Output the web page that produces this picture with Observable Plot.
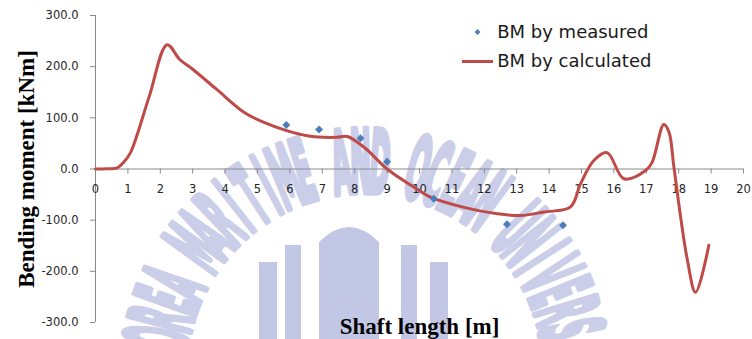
<!DOCTYPE html>
<html>
<head>
<meta charset="utf-8">
<script src="https://cdn.jsdelivr.net/npm/d3@7"></script>
<script src="https://cdn.jsdelivr.net/npm/@observablehq/plot@0.6"></script>
<style>
  html, body { margin: 0; padding: 0; background: #ffffff; }
  #chart { width: 752px; height: 339px; overflow: hidden; }
</style>
</head>
<body>
<div id="chart"></div>
<script>
// Measured bending moment along the shaft (diamonds)
const measuredX  = [5.89, 6.9, 8.18, 9.0, 10.44, 12.7, 14.43];
const measuredBM = [86, 77, 60, 14, -58, -108, -110];

// Calculated bending moment along the shaft (smoothed line)
const calcX  = [0, 0.35, 0.67, 0.87, 1.08, 1.65, 2.21, 2.6, 3.0, 3.75, 4.58, 5.2, 5.9, 6.53, 7.05, 7.45, 7.77,
                8.3, 9.0, 9.82, 10.34, 11.37, 12.4, 13.1, 13.84, 14.66, 14.97, 15.38, 15.79, 16.31, 16.98,
                17.18, 17.54, 17.7, 17.85, 18.06, 18.26, 18.52, 18.93];
const calcBM = [0, 0.5, 2, 13, 32, 140, 243, 214, 195, 155, 111, 91, 75, 65, 62, 62, 63.5,
                42, 0, -35, -55, -75, -87.5, -91, -84, -74, -29, 16.6, 32, -19, -3,
                13, 87, 72, 5, -94, -175, -241, -149];

const xTicks = d3.range(0, 21);
const yTicks = [300, 200, 100, 0, -100, -200, -300];

const xTitle = "Shaft length [m]";
const yTitle = "Bending moment [kNm]";
const seriesNames = ["BM by measured", "BM by calculated"];
const watermarkText = "KOREA MARITIME AND OCEAN UNIVERSITY";

const measured = measuredX.map((x, i) => ({x, bm: measuredBM[i]}));
const calculated = calcX.map((x, i) => ({x, bm: calcBM[i]}));

const axisGray = "#8a8a8a";
const lineRed = "#be4b48";
const pointBlue = "#4a7ebb";
const sans = "DejaVu Sans";
const serif = "Liberation Serif";

const chart = Plot.plot({
  width: 752,
  height: 339,
  marginLeft: 95,
  marginRight: 9,
  marginTop: 15,
  marginBottom: 17,
  x: {domain: [0, 20], axis: null},
  y: {domain: [-300, 300], label: null},
  style: {fontFamily: sans, background: "transparent", color: "#262626", overflow: "visible"},
  marks: [
    // axis lines
    Plot.ruleX([0], {stroke: axisGray, strokeWidth: 1}),
    Plot.ruleY([0], {stroke: axisGray, strokeWidth: 1}),
    Plot.axisY(yTicks, {
      tickSize: 5, tickPadding: 12, stroke: axisGray, label: null,
      tickFormat: (d) => d.toFixed(1), fontSize: 11.5, fill: "#262626"
    }),
    // x ticks hang below the zero line
    Plot.ruleX(xTicks, {x: (d) => d, y1: 0, y2: 0, insetBottom: -5, stroke: axisGray}),
    Plot.text(xTicks, {x: (d) => d, y: 0, dy: 20, text: (d) => String(d), fontSize: 11.5, fill: "#262626"}),
    // data
    Plot.line(calculated, {x: "x", y: "bm", curve: "catmull-rom", stroke: lineRed, strokeWidth: 3}),
    Plot.dot(measured, {x: "x", y: "bm", symbol: "diamond2", r: 3.6, fill: pointBlue}),
    // axis titles
    Plot.text([xTitle], {frameAnchor: "bottom", textAnchor: "middle", lineAnchor: "middle", dy: 4.6,
      text: (d) => d, fontFamily: serif, fontWeight: "bold", fontSize: 23, fill: "#000"}),
    Plot.text([yTitle], {frameAnchor: "left", textAnchor: "middle", lineAnchor: "middle", rotate: -90, dx: -69,
      text: (d) => d, fontFamily: serif, fontWeight: "bold", fontSize: 23, fill: "#000"}),
    // legend
    Plot.dot([seriesNames[0]], {frameAnchor: "top-left", dx: 382, dy: 16.5, symbol: "diamond2", r: 2.6, fill: pointBlue}),
    Plot.text([seriesNames[0]], {frameAnchor: "top-left", textAnchor: "start", lineAnchor: "middle",
      dx: 401.7, dy: 16.7, text: (d) => d, fontSize: 18, fill: "#1a1a1a"}),
    Plot.text([seriesNames[1]], {frameAnchor: "top-left", textAnchor: "start", lineAnchor: "middle",
      dx: 401.7, dy: 45.7, text: (d) => d, fontSize: 18, fill: "#1a1a1a"})
  ]
});

const svg = d3.select(chart);

// legend swatch for the calculated line
svg.append("line")
  .attr("x1", 462).attr("x2", 493).attr("y1", 61.5).attr("y2", 61.5)
  .attr("stroke", lineRed).attr("stroke-width", 3);

// university emblem watermark, drawn underneath everything
const wmColor = "#cbcee9";
const wm = svg.insert("g", ":first-child").attr("fill", wmColor);
const cx = 365, cy = 372, rBase = 180;
const startDeg = 184, stepDeg = 5.3;
const letters = wm.append("g")
  .attr("font-family", sans).attr("font-weight", "bold").attr("font-size", 86)
  .attr("text-anchor", "middle")
  .attr("stroke", wmColor).attr("stroke-width", 7).attr("stroke-linejoin", "round");
Array.from(watermarkText).forEach((ch, i) => {
  if (ch === " ") return;
  const deg = startDeg + i * stepDeg;
  const a = deg * Math.PI / 180;
  const px = cx + rBase * Math.cos(a), py = cy + rBase * Math.sin(a);
  letters.append("text")
    .attr("transform", `translate(${px.toFixed(1)},${py.toFixed(1)}) rotate(${(deg + 90).toFixed(1)}) scale(0.29,1)`)
    .text(ch);
});
// central emblem pillars
const emblem = wm.append("g").attr("fill", "#c3c7e6");
const pillars = [[259, 262, 18], [285, 245, 16], [401, 245, 16], [430, 262, 18]];
for (const [x, y, w] of pillars) emblem.append("rect").attr("x", x).attr("y", y).attr("width", w).attr("height", 339 - y);
emblem.append("path").attr("d", "M319 339 L319 242 Q349 212 379 242 L379 339 Z");

document.getElementById("chart").appendChild(chart);
</script>
</body>
</html>
